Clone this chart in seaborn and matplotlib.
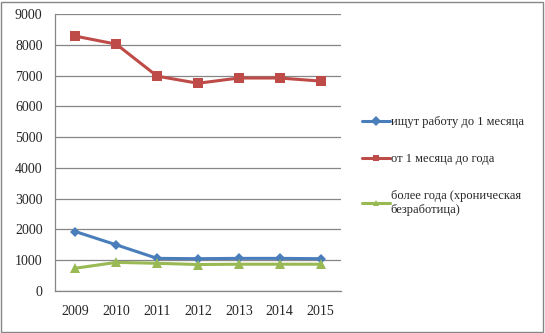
import matplotlib
matplotlib.use("Agg")
import matplotlib.pyplot as plt
import seaborn as sns
import pandas as pd
from matplotlib.patches import Rectangle

years = ["2009", "2010", "2011", "2012", "2013", "2014", "2015"]
up_to_month = [1930, 1500, 1060, 1050, 1060, 1060, 1050]
month_to_year = [8280, 8020, 6980, 6750, 6920, 6920, 6820]
over_year = [740, 930, 900, 860, 870, 870, 870]
series_names = ["ищут работу до 1 месяца", "от 1 месяца до года",
                "более года (хроническая\nбезработица)"]

rows = []
for name, vals in zip(series_names, [up_to_month, month_to_year, over_year]):
    for i, (y, v) in enumerate(zip(years, vals)):
        rows.append({"x": i, "year": y, "value": v, "series": name})
df = pd.DataFrame(rows)

sns.set_style("white")
plt.rcParams["font.family"] = ["Liberation Serif", "DejaVu Serif"]

fig = plt.figure(figsize=(5.45, 3.33), dpi=100)
ax = fig.add_axes([55/545, 1 - 291/333, (341-55)/545, (291-14)/333])

colors = ["#4A7EBB", "#BE4B48", "#98B954"]
markers = ["D", "s", "^"]
sizes = [5, 7, 7]
palette = dict(zip(series_names, colors))
mk = dict(zip(series_names, markers))

sns.lineplot(data=df, x="x", y="value", hue="series", style="series",
             palette=palette, markers=mk, dashes=False, linewidth=2.2,
             markersize=7, markeredgewidth=0, ax=ax, legend=True)
for line, ms in zip(ax.lines, sizes):
    line.set_markersize(ms)

ax.set_xlim(-0.5, 6.5)
ax.set_ylim(0, 9000)
ax.set_yticks(range(0, 9001, 1000))
ax.set_yticklabels([str(v) for v in range(0, 9001, 1000)], fontsize=10)
ax.set_xticks(range(7))
ax.set_xticklabels(years, fontsize=10)
ax.set_xlabel("")
ax.set_ylabel("")
ax.grid(axis="y", color="#868686", linewidth=0.9)
ax.set_axisbelow(True)
for s in ["top", "right"]:
    ax.spines[s].set_visible(False)
for s in ["left", "bottom"]:
    ax.spines[s].set_color("#868686")
    ax.spines[s].set_linewidth(0.9)
ax.tick_params(axis="x", length=0, pad=10)
ax.tick_params(axis="y", length=0, pad=9)
ax.set_xticks([i + 0.5 for i in range(-1, 7)], minor=True)
ax.tick_params(axis="x", which="minor", length=4, color="#868686", width=0.9, direction="out")

handles, labels = ax.get_legend_handles_labels()
leg = ax.legend(handles, labels, loc="center left",
                bbox_to_anchor=(357/545, 1 - 166/333), bbox_transform=fig.transFigure,
                frameon=False, fontsize=9, labelspacing=2.0, handlelength=2.2,
                handletextpad=0.1, borderaxespad=0)
for h in leg.legend_handles:
    h.set_linewidth(2.2)
    h.set_markersize(5)

fig.patches.append(Rectangle((1/545, 1/333), 542/545, 330/333, transform=fig.transFigure,
                             fill=False, edgecolor="#868686", linewidth=1.0))

fig.savefig("out.png", dpi=100)
